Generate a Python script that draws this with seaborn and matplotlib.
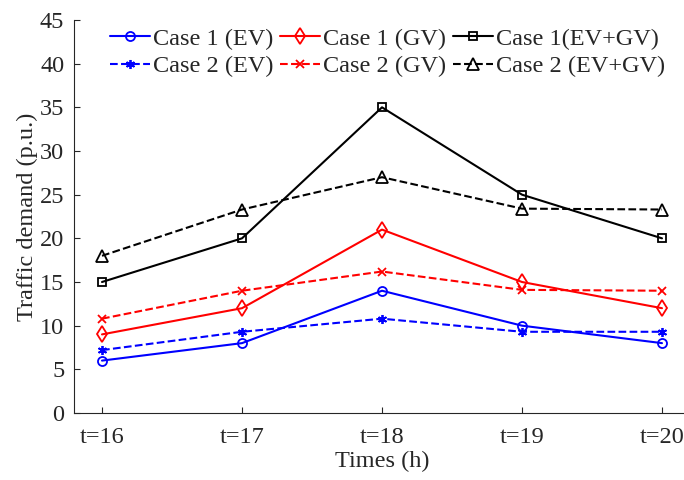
import numpy as np
import pandas as pd
import seaborn as sns
import matplotlib
matplotlib.use('Agg')
import matplotlib.pyplot as plt

hours = [16, 17, 18, 19, 20]
tick_labels = ['t=16', 't=17', 't=18', 't=19', 't=20']

case1_ev = [6, 8, 14, 10, 8]
case1_gv = [9, 12, 21, 15, 12]
case1_all = [15, 20, 35, 25, 20]
case2_ev = [7.2, 9.3, 10.8, 9.3, 9.3]
case2_gv = [10.8, 14.0, 16.2, 14.1, 14.0]
case2_all = [18.0, 23.3, 27.0, 23.4, 23.3]

sns.set_style('ticks')
plt.rcParams['font.family'] = ['Liberation Serif', 'DejaVu Serif']
FS = 17.5

fig = plt.figure(figsize=(6.84, 4.8), dpi=100)
ax = fig.add_axes([74 / 684, 1 - 413 / 480, (690 - 74) / 684, (413 - 20) / 480])

# name, values, colour, linestyle, marker, marker size
series = [
    ('Case 1 (EV)', case1_ev, 'blue', '-', 'o', 6.5),
    ('Case 1 (GV)', case1_gv, 'red', '-', 'd', 8.5),
    ('Case 1(EV+GV)', case1_all, 'black', '-', 's', 5.5),
    ('Case 2 (EV)', case2_ev, 'blue', '--', (6, 2, 0), 6.5),
    ('Case 2 (GV)', case2_gv, 'red', '--', 'x', 5.5),
    ('Case 2 (EV+GV)', case2_all, 'black', '--', '^', 8),
]

for name, vals, color, ls, mk, ms in series:
    df = pd.DataFrame({'hour': hours, 'value': vals})
    sns.lineplot(data=df, x='hour', y='value', ax=ax, color=color,
                 linestyle=ls, marker=mk, markersize=ms,
                 markerfacecolor='none', markeredgecolor=color,
                 markeredgewidth=1.3, linewidth=1.5, label=name)

ax.set_xlim(15.8, 20.2)
ax.set_ylim(0, 45)
ax.set_xticks(hours)
ax.set_xticklabels(tick_labels)
ax.set_yticks(np.arange(0, 46, 5))
ax.tick_params(direction='in', labelsize=FS, length=4, color='#262626',
               labelcolor='#262626')
ax.tick_params(axis='x', pad=10)
ax.tick_params(axis='y', pad=7)
for s in ['top', 'right']:
    ax.spines[s].set_visible(False)
for s in ['left', 'bottom']:
    ax.spines[s].set_color('#262626')
    ax.spines[s].set_linewidth(0.8)

ax.set_xlabel('Times (h)', fontsize=FS, color='#262626', labelpad=2)
ax.set_ylabel('Traffic demand (p.u.)', fontsize=FS, color='#262626', labelpad=1)

# one legend per column, case 1 on top row, case 2 below
h, l = ax.get_legend_handles_labels()
ax.get_legend().remove()
col_x = [105, 275, 448]
for k, x0 in enumerate(col_x):
    fig.legend([h[k], h[k + 3]], [l[k], l[k + 3]], ncol=1,
               loc='upper left', bbox_to_anchor=(x0 / 684, 1 - 23 / 480),
               frameon=False, fontsize=FS, handlelength=1.65,
               handletextpad=0.12, labelspacing=0.22, borderaxespad=0,
               borderpad=0.2)

fig.savefig('out.png', dpi=100)
